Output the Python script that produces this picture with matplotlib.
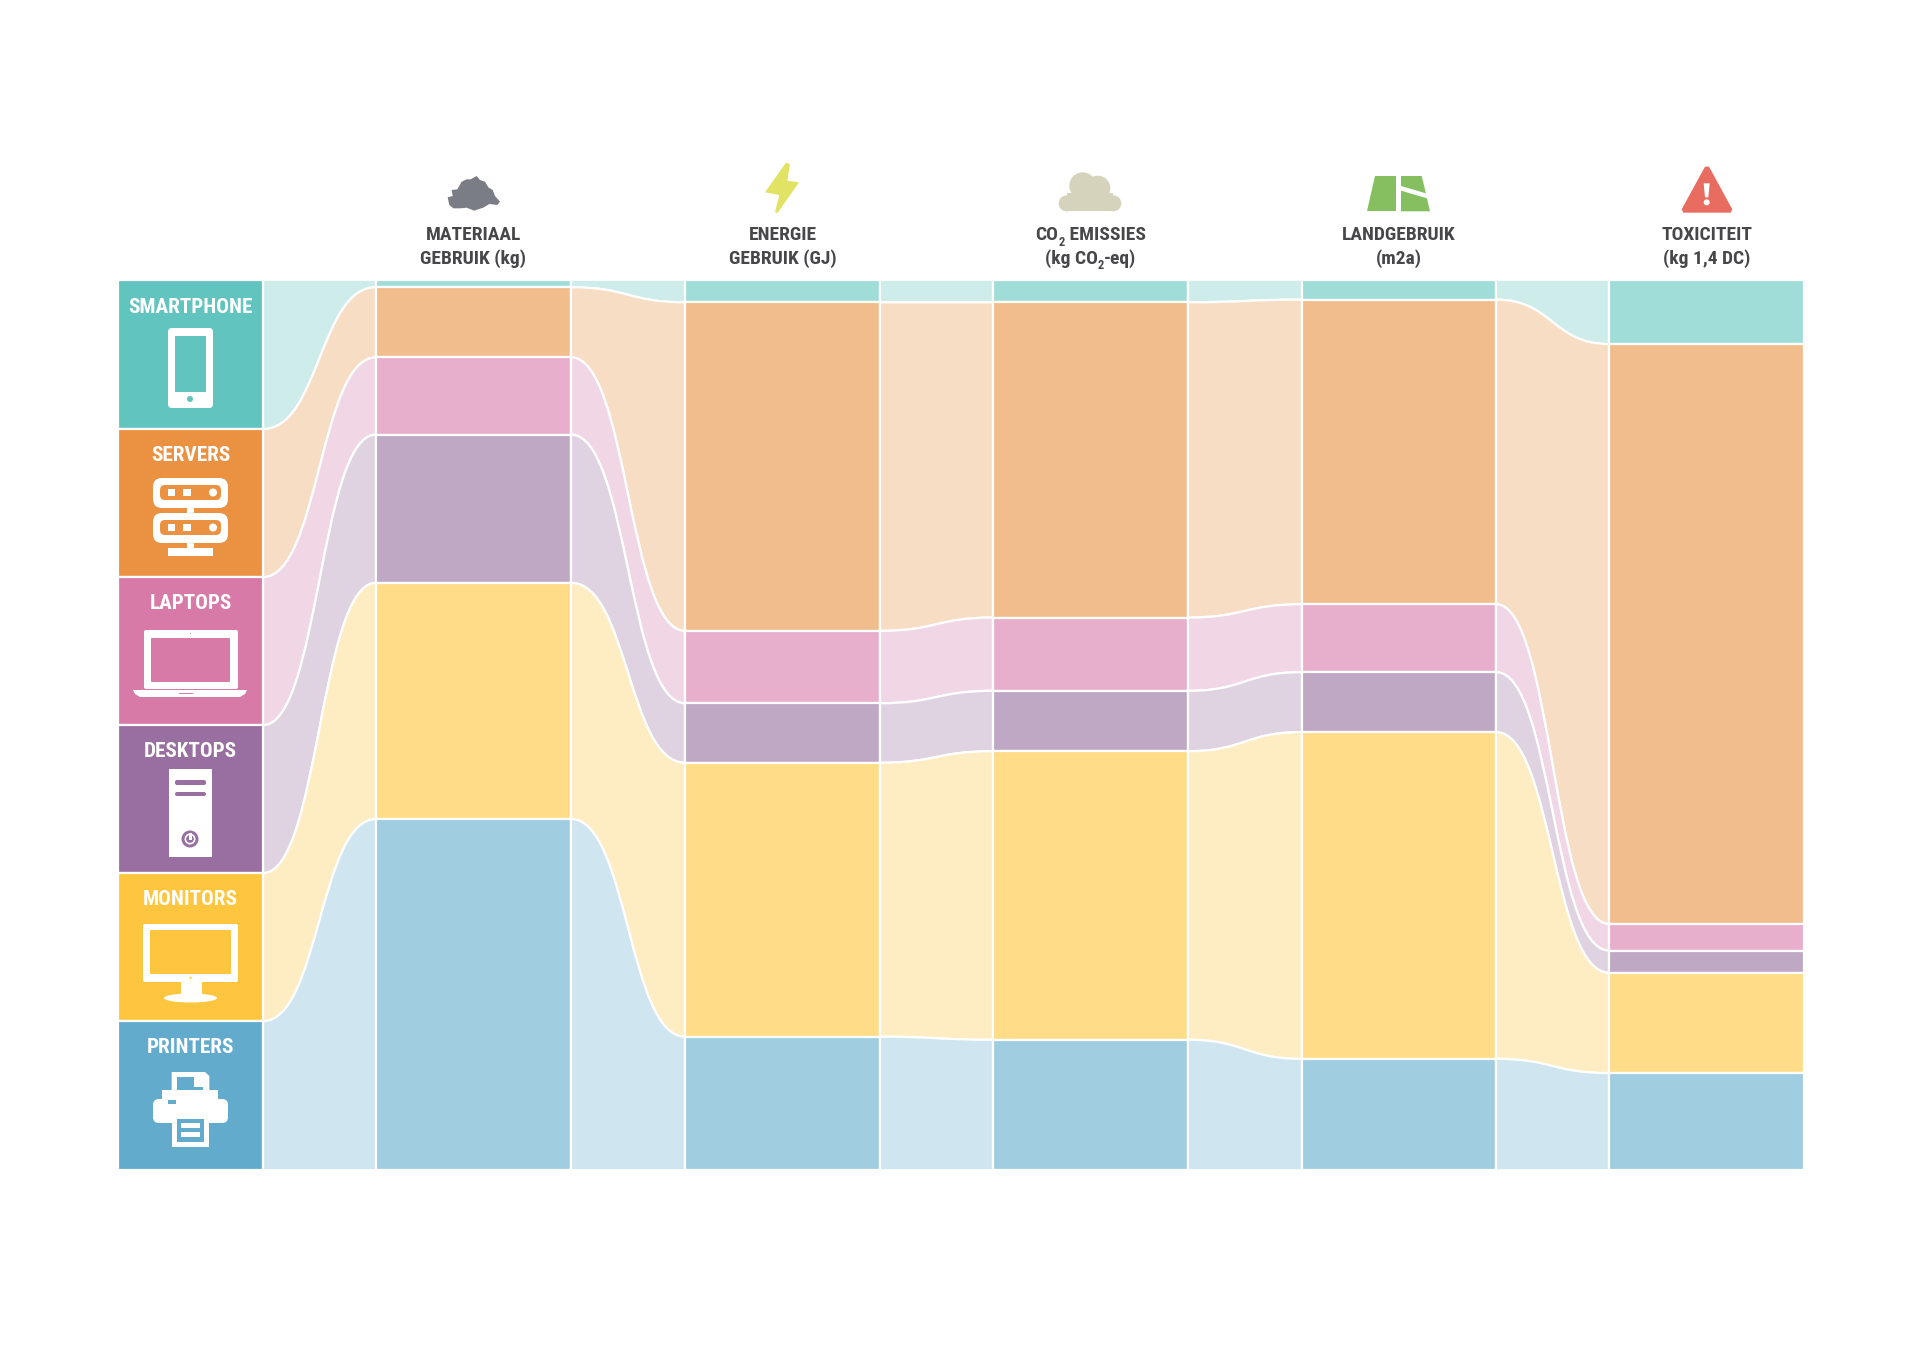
import matplotlib
matplotlib.use('Agg')
import matplotlib.pyplot as plt
from matplotlib import font_manager
from matplotlib.path import Path
from matplotlib.patches import PathPatch, Rectangle, Circle, Ellipse, Polygon, FancyBboxPatch

# devices, top to bottom
devices = ['SMARTPHONE', 'SERVERS', 'LAPTOPS', 'DESKTOPS', 'MONITORS', 'PRINTERS']
device_share = [16.67, 16.67, 16.67, 16.67, 16.67, 16.65]

# share per impact category (%), same order as devices
materiaal = [0.7, 7.9, 8.7, 16.7, 26.6, 39.4]
energie = [2.4, 37.0, 8.15, 6.7, 30.85, 14.9]
co2 = [2.4, 35.5, 8.25, 6.8, 32.5, 14.55]
land = [2.1, 34.3, 7.65, 6.75, 36.8, 12.4]
toxiciteit = [7.1, 65.3, 3.0, 2.5, 11.3, 10.8]

strong = ['#62C4BE', '#EB9142', '#D77AA8', '#986FA0', '#FEC63F', '#62ABCD']
medium = ['#A0DDD8', '#F2BD8D', '#E7AFCC', '#BFA8C4', '#FEDC88', '#A0CDE0']
light = ['#CEEDEA', '#F8DDC5', '#F1D6E5', '#DFD3E1', '#FEEDC3', '#CFE5EF']

TEXT = '#47474A'
WHITE = 'white'


def pick_font():
    for name in ['Roboto Condensed', 'Liberation Sans Narrow', 'Roboto']:
        try:
            font_manager.findfont(name, fallback_to_default=False)
            return name
        except ValueError:
            pass
    return 'DejaVu Sans'


FONT = pick_font()

fig = plt.figure(figsize=(19.2, 13.58), dpi=100, facecolor='white')

# stacks: x in image pixels, y in percent
top_px, bottom_px = 281, 1169
pl = fig.add_axes([0, 1 - bottom_px / 1358, 1, (bottom_px - top_px) / 1358])
pl.set_xlim(0, 1920)
pl.set_ylim(100, 0)
pl.axis('off')

# overlay for texts and icons, in image pixels
ax = fig.add_axes([0, 0, 1, 1])
ax.set_xlim(0, 1920)
ax.set_ylim(1358, 0)
ax.axis('off')
ax.patch.set_alpha(0)

columns = [materiaal, energie, co2, land, toxiciteit]
col_x = [(376, 571), (685, 880), (993, 1188), (1302, 1496), (1609, 1804)]
box_x = (118, 263)
LW = 1.6
OVER = 0.14  # white stroke eats into the outer edges, push them out a bit


def stack(values):
    edges = [0]
    for v in values:
        edges.append(edges[-1] + v)
    edges[0] = -OVER
    edges[-1] = 100 + OVER
    return edges


def draw_stream(x0, x1, a0, b0, a1, b1, color):
    xm = (x0 + x1) / 2
    verts = [(x0, a0), (xm, a0), (xm, a1), (x1, a1),
             (x1, b1), (xm, b1), (xm, b0), (x0, b0), (x0, a0)]
    codes = [Path.MOVETO, Path.CURVE4, Path.CURVE4, Path.CURVE4,
             Path.LINETO, Path.CURVE4, Path.CURVE4, Path.CURVE4, Path.CLOSEPOLY]
    pl.add_patch(PathPatch(Path(verts, codes), facecolor=color, edgecolor=WHITE, lw=LW, clip_on=False))


prev_edges = stack(device_share)
prev_x = box_x[1]
for values, (x0, x1) in zip(columns, col_x):
    edges = stack(values)
    for i in range(6):
        draw_stream(prev_x, x0, prev_edges[i], prev_edges[i + 1], edges[i], edges[i + 1], light[i])
    for i in range(6):
        pl.add_patch(Rectangle((x0, edges[i]), x1 - x0, edges[i + 1] - edges[i], facecolor=medium[i],
                               edgecolor=WHITE, lw=LW, clip_on=False))
    prev_edges = edges
    prev_x = x1

# device boxes
edges = stack(device_share)
for i, name in enumerate(devices):
    pl.add_patch(Rectangle((box_x[0], edges[i]), box_x[1] - box_x[0], edges[i + 1] - edges[i], facecolor=strong[i],
                           edgecolor=WHITE, lw=LW, clip_on=False))
    y = top_px + (bottom_px - top_px) * sum(device_share[:i]) / 100
    ax.text(sum(box_x) / 2, y + 26.5, name, color=WHITE, fontsize=15.2, fontweight='bold', family=FONT,
            ha='center', va='center')


def rrect(x0, y0, x1, y1, r, color):
    ax.add_patch(FancyBboxPatch((x0, y0), x1 - x0, y1 - y0, boxstyle='round,pad=0,rounding_size=%s' % r,
                                facecolor=color, edgecolor='none'))


def rect(x0, y0, x1, y1, color):
    ax.add_patch(Rectangle((x0, y0), x1 - x0, y1 - y0, facecolor=color, edgecolor='none'))


def circ(x, y, r, color):
    ax.add_patch(Circle((x, y), r, facecolor=color, edgecolor='none'))


def poly(pts, color):
    ax.add_patch(Polygon(pts, closed=True, facecolor=color, edgecolor='none'))


def zoomed(ox, oy, pts):
    return [(ox + p[0] / 3, oy + p[1] / 3) for p in pts]


# phone
c = strong[0]
rrect(168, 328, 213, 408, 4, WHITE)
rect(175, 336, 206, 392, c)
circ(190, 399, 3, c)

# server
c = strong[1]
for y0 in (478, 513):
    rrect(153, y0, 228, y0 + 30, 9, WHITE)
    rrect(160, y0 + 7, 221, y0 + 22, 5, c)
    rect(168, y0 + 11, 175, y0 + 18, WHITE)
    rect(183, y0 + 11, 191, y0 + 18, WHITE)
    circ(213, y0 + 14.5, 4, WHITE)
rect(187, 507, 194, 514, WHITE)
rect(187, 542, 194, 549, WHITE)
rect(168, 548, 213, 556, WHITE)

# laptop
c = strong[2]
rrect(144, 630, 238, 689, 2, WHITE)
rrect(151, 638, 230, 682, 1, c)
poly([(133, 690), (247, 690), (245, 694), (240, 697), (140, 697), (135, 694)], WHITE)
rect(179, 692.5, 193, 694, c)
rect(190, 632.5, 191, 634, c)

# desktop
c = strong[3]
rect(169, 769, 212, 857, WHITE)
rrect(175, 780, 206, 785, 2, c)
rrect(175, 792, 206, 796, 2, c)
circ(190, 839, 8.5, c)
circ(190, 839, 5.5, WHITE)
circ(190, 839, 3.8, c)
rect(189, 833, 191.5, 840, WHITE)

# monitor
c = strong[4]
rrect(143, 924, 238, 982, 2, WHITE)
rect(150, 930, 231, 974, c)
circ(190.5, 978, 1, c)
rect(181, 982, 202, 997, WHITE)
ax.add_patch(Ellipse((190.5, 998), 53, 9, facecolor=WHITE, edgecolor='none'))

# printer
c = strong[5]
poly(zoomed(100, 860, [(215, 636), (315, 636), (328, 648), (328, 700), (215, 700)]), WHITE)
poly(zoomed(100, 860, [(232, 652), (282, 652), (282, 680), (310, 680), (310, 690), (232, 690)]), c)
rect(162, 1090, 218, 1102, WHITE)
rrect(153, 1099, 228, 1123, 6, WHITE)
rect(168, 1100, 176, 1104, c)
rect(172, 1118, 209, 1147, WHITE)
rect(177, 1119, 204, 1142, c)
rect(181, 1123, 200, 1128, WHITE)
rect(181, 1132, 200, 1137, WHITE)

# header texts
heads = [
    [[('MATERIAAL', 0)], [('GEBRUIK (kg)', 0)]],
    [[('ENERGIE', 0)], [('GEBRUIK (GJ)', 0)]],
    [[('CO', 0), ('2', 1), (' EMISSIES', 0)], [('(kg CO', 0), ('2', 1), ('-eq)', 0)]],
    [[('LANDGEBRUIK', 0)], [('(m2a)', 0)]],
    [[('TOXICITEIT', 0)], [('(kg 1,4 DC)', 0)]],
]
line_y = [235.5, 258.5]
renderer = fig.canvas.get_renderer()


def draw_line(cx, y, parts):
    items = []
    width = 0
    for s, sub in parts:
        t = ax.text(0, y + (7 if sub else 0), s.replace(' ', '\u00a0'), color=TEXT, fontweight='bold', family=FONT,
                    fontsize=9 if sub else 14, ha='left', va='center')
        w = t.get_window_extent(renderer).width
        items.append((t, w))
        width += w
    x = cx - width / 2
    for t, w in items:
        t.set_x(x)
        x += w


for (x0, x1), head in zip(col_x, heads):
    for y, parts in zip(line_y, head):
        draw_line((x0 + x1) / 2, y, parts)

# header icons
rock = '#7A7D85'
poly(zoomed(100, 140, [(1043, 172), (1058, 168), (1055, 150), (1072, 148), (1085, 125), (1100, 118), (1112, 118),
                       (1130, 108), (1140, 120), (1155, 125), (1165, 142), (1178, 150), (1185, 168), (1200, 185),
                       (1192, 195), (1168, 192), (1150, 203), (1122, 212), (1100, 203), (1082, 205), (1060, 205),
                       (1048, 195)]), rock)

poly(zoomed(700, 140, [(258, 68), (270, 72), (262, 122), (297, 127), (232, 220), (225, 216), (238, 165), (195, 157)]),
     '#E2E264')

cloud = '#D5D3BC'
for cx, cy, r in [(1100, 190, 24), (1148, 137, 40), (1193, 145, 38), (1240, 190, 24)]:
    circ(700 + cx / 3, 140 + cy / 3, r / 3, cloud)
rect(700 + 1100 / 3, 140 + 160 / 3, 700 + 1240 / 3, 140 + 214 / 3, cloud)

grass = '#85BF60'
poly(zoomed(1300, 140, [(225, 108), (288, 108), (288, 214), (201, 214)]), grass)
poly(zoomed(1300, 140, [(303, 108), (365, 108), (378, 160), (303, 138)]), grass)
poly(zoomed(1300, 140, [(303, 152), (381, 175), (390, 214), (303, 214)]), grass)

red = '#E86C60'
poly(zoomed(1300, 140, [(1215, 80), (1227, 80), (1297, 208), (1292, 218), (1150, 218), (1145, 208)]), red)
poly(zoomed(1300, 140, [(1211, 130), (1229, 130), (1225, 172), (1215, 172)]), WHITE)
circ(1300 + 1220 / 3, 140 + 187 / 3, 3, WHITE)

fig.savefig('out.png', dpi=100)
